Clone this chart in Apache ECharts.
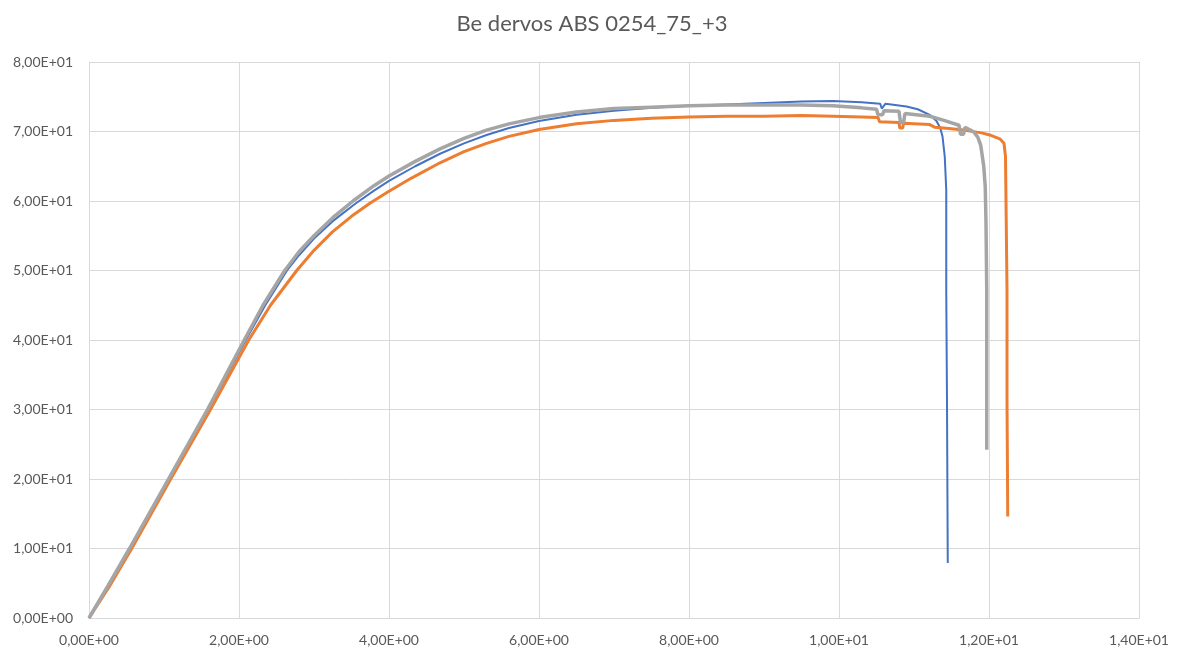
<!DOCTYPE html>
<html>
<head>
<meta charset="utf-8">
<script src="https://cdn.jsdelivr.net/npm/echarts@6/dist/echarts.min.js"></script>
<style>
html,body{margin:0;padding:0;background:#fff;}
#chart{width:1184px;height:648px;}
</style>
</head>
<body>
<div id="chart"></div>
<script>
const titleText = "Be dervos ABS 0254_75_+3";
const seriesNames = ["Series1", "Series2", "Series3"];
const xTicks = { min: 0, max: 14, interval: 2 };
const yTicks = { min: 0, max: 80, interval: 10 };

const blueData = [
  [0,0],[0.25,4.5],[0.55,10],[1.07,20],[1.59,30],[2.09,40],[2.35,45],[2.64,50],[2.8,52.2],[3.0,54.6],
  [3.25,57.1],[3.55,59.6],[3.8,61.5],[4.0,62.9],[4.35,65.0],[4.68,66.8],[5.0,68.3],[5.3,69.5],[5.6,70.5],
  [6.0,71.5],[6.5,72.4],[7.0,73.0],[7.5,73.4],[8.0,73.7],[8.5,73.9],[9.0,74.1],[9.5,74.3],[9.92,74.4],
  [10.3,74.2],[10.55,74.0],[10.57,73.3],[10.62,74.0],[10.9,73.6],[11.05,73.2],[11.21,72.4],[11.3,71.5],
  [11.35,70.5],[11.38,69.3],[11.41,66.4],[11.43,61.6],[11.43,47],[11.44,31],[11.45,7.9]
];
const orangeData = [
  [0,0],[0.27,4.5],[0.57,10],[1.09,20],[1.62,30],[2.13,40],[2.42,45],[2.77,50],[3.0,52.9],[3.25,55.6],
  [3.5,57.8],[3.75,59.7],[4.0,61.4],[4.3,63.3],[4.68,65.5],[5.0,67.1],[5.3,68.3],[5.6,69.3],[6.0,70.3],
  [6.5,71.1],[7.0,71.6],[7.5,71.9],[8.0,72.1],[8.5,72.2],[9.0,72.2],[9.5,72.3],[9.92,72.2],[10.3,72.1],
  [10.52,72.0],[10.54,71.4],[10.8,71.3],[10.81,70.5],[10.85,70.5],[10.86,71.2],[11.21,71.0],[11.28,70.6],
  [11.5,70.4],[11.66,70.2],[11.9,69.8],[12.01,69.5],[12.15,68.9],[12.2,68.3],[12.22,66.4],[12.23,56.8],
  [12.24,47.2],[12.24,31.4],[12.25,14.6]
];
const grayData = [
  [0,0],[0.25,4.6],[0.54,10],[1.06,20],[1.58,30],[2.07,40],[2.32,45],[2.61,50],[2.8,52.7],[3.0,55.0],
  [3.25,57.6],[3.52,60.0],[3.8,62.2],[4.0,63.6],[4.35,65.7],[4.68,67.5],[5.0,69.0],[5.3,70.2],[5.6,71.1],
  [6.0,72.0],[6.5,72.8],[7.0,73.3],[7.5,73.5],[8.0,73.7],[8.5,73.8],[9.0,73.8],[9.5,73.8],[9.92,73.7],
  [10.3,73.4],[10.5,73.2],[10.52,72.4],[10.58,72.4],[10.6,73.0],[10.8,72.9],[10.82,71.3],[10.86,71.3],
  [10.88,72.6],[11.21,72.2],[11.4,71.6],[11.6,70.9],[11.62,69.6],[11.66,69.6],[11.68,70.6],[11.79,70.0],
  [11.85,69.2],[11.89,68.0],[11.93,65],[11.95,62],[11.96,56.8],[11.97,47],[11.97,31.4],[11.97,24.2]
];

function fmt(v) {
  let s = Number(v).toExponential(2);
  let parts = s.split('e');
  let m = parts[0].replace('.', ',');
  let e = parseInt(parts[1], 10);
  let sign = e < 0 ? '-' : '+';
  let ea = Math.abs(e);
  return m + 'E' + sign + (ea < 10 ? '0' + ea : '' + ea);
}

const chart = echarts.init(document.getElementById('chart'), null, { renderer: 'canvas' });
const labelStyle = { color: '#595959', fontFamily: 'Lato', fontSize: 14 };
chart.setOption({
  animation: false,
  backgroundColor: '#ffffff',
  title: {
    text: titleText,
    left: 'center',
    top: 8,
    textStyle: { color: '#595959', fontFamily: 'Lato', fontSize: 22, fontWeight: 'normal' }
  },
  grid: { left: 89, right: 45, top: 62, bottom: 30, containLabel: false },
  xAxis: {
    type: 'value',
    min: xTicks.min, max: xTicks.max, interval: xTicks.interval,
    axisLine: { show: true, lineStyle: { color: '#D9D9D9', width: 1 } },
    axisTick: { show: false },
    splitLine: { show: true, lineStyle: { color: '#D9D9D9', width: 1 } },
    axisLabel: Object.assign({ formatter: fmt, margin: 15 }, labelStyle)
  },
  yAxis: {
    type: 'value',
    min: yTicks.min, max: yTicks.max, interval: yTicks.interval,
    axisLine: { show: true, lineStyle: { color: '#D9D9D9', width: 1 } },
    axisTick: { show: false },
    splitLine: { show: true, lineStyle: { color: '#D9D9D9', width: 1 } },
    axisLabel: Object.assign({ formatter: fmt, margin: 16 }, labelStyle)
  },
  series: [
    { name: seriesNames[0], type: 'line', data: blueData, showSymbol: false, smooth: false,
      lineStyle: { color: '#4472C4', width: 2 }, itemStyle: { color: '#4472C4' } },
    { name: seriesNames[1], type: 'line', data: orangeData, showSymbol: false, smooth: false,
      lineStyle: { color: '#ED7D31', width: 3 }, itemStyle: { color: '#ED7D31' } },
    { name: seriesNames[2], type: 'line', data: grayData, showSymbol: false, smooth: false,
      lineStyle: { color: '#A5A5A5', width: 3.5 }, itemStyle: { color: '#A5A5A5' } }
  ]
});
</script>
</body>
</html>
